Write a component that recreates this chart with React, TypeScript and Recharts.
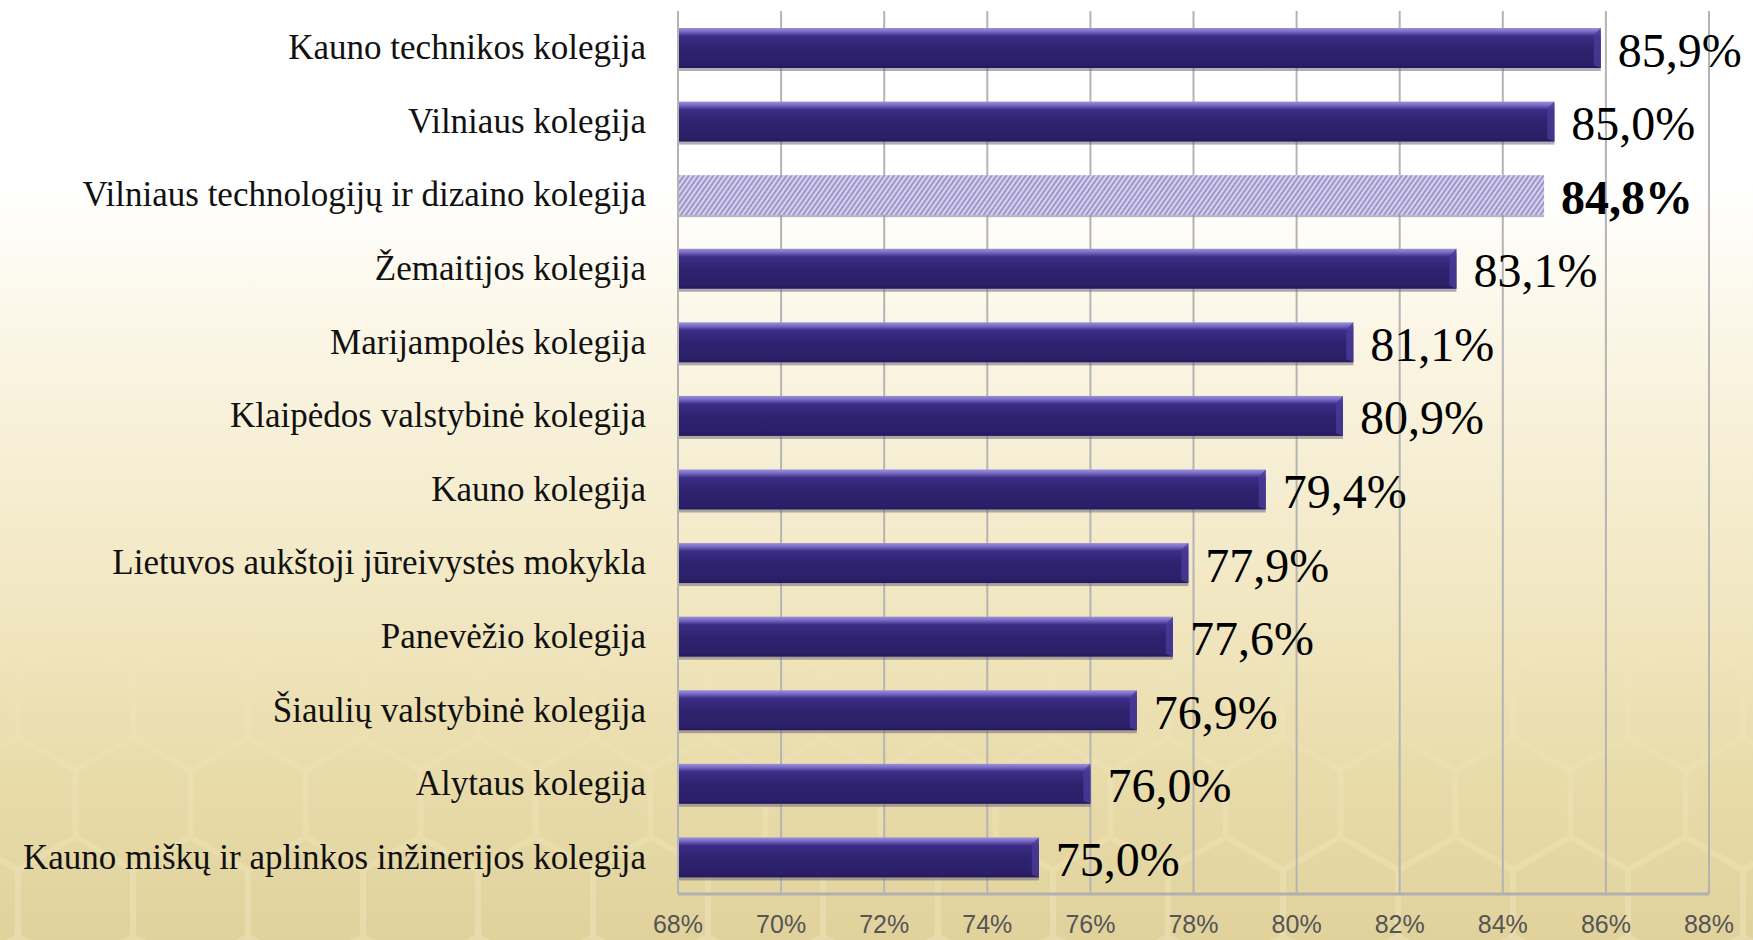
import { BarChart, Bar, XAxis, YAxis, CartesianGrid, LabelList } from 'recharts'

const colleges = [
  'Kauno technikos kolegija',
  'Vilniaus kolegija',
  'Vilniaus technologijų ir dizaino kolegija',
  'Žemaitijos kolegija',
  'Marijampolės kolegija',
  'Klaipėdos valstybinė kolegija',
  'Kauno kolegija',
  'Lietuvos aukštoji jūreivystės mokykla',
  'Panevėžio kolegija',
  'Šiaulių valstybinė kolegija',
  'Alytaus kolegija',
  'Kauno miškų ir aplinkos inžinerijos kolegija',
]

const shares = [85.9, 85.0, 84.8, 83.1, 81.1, 80.9, 79.4, 77.9, 77.6, 76.9, 76.0, 75.0]

const xTicks = [68, 70, 72, 74, 76, 78, 80, 82, 84, 86, 88]

const highlighted = 'Vilniaus technologijų ir dizaino kolegija'

const W = 1753
const H = 940

const data = colleges.map((name, i) => ({ name, value: shares[i] }))

const fmt = (v: number) => v.toFixed(1).replace('.', ',') + '%'

function BarShape(props: any) {
  const { x, y, width, height, payload } = props
  if (width <= 0) return null
  if (payload.name === highlighted) {
    return (
      <g>
        <rect x={x} y={y + 2} width={width} height={height} fill="#8a8a98" opacity={0.6} />
        <rect x={x} y={y} width={width} height={height} fill="url(#hatch)" />
      </g>
    )
  }
  const bev = 7
  return (
    <g>
      <rect x={x} y={y + 3} width={width} height={height} fill="#6f6a80" opacity={0.55} />
      <rect x={x} y={y} width={width} height={height} fill="url(#barGrad)" />
      <polygon
        points={`${x + width - bev},${y + bev} ${x + width},${y} ${x + width},${y + height} ${x + width - bev},${y + height - 3}`}
        fill="#4a3b98"
        opacity={0.8}
      />
    </g>
  )
}

function ValueLabel(props: any) {
  const { x, y, width, height, value, index } = props
  const bold = colleges[index] === highlighted
  return (
    <text
      x={x + width + 17}
      y={y + height / 2 + 2}
      dominantBaseline="central"
      fontFamily="'Liberation Serif', 'Times New Roman', serif"
      fontSize={48}
      fontWeight={bold ? 700 : 400}
      fill="#000"
    >
      {fmt(value)}
    </text>
  )
}

function CategoryTick(props: any) {
  const { x, y, payload } = props
  return (
    <text
      x={x - 24}
      y={y}
      textAnchor="end"
      dominantBaseline="central"
      fontFamily="'Liberation Serif', 'Times New Roman', serif"
      fontSize={35}
      fill="#111"
    >
      {payload.value}
    </text>
  )
}

function PercentTick(props: any) {
  const { x, y, payload } = props
  return (
    <text
      x={x}
      y={y + 22}
      textAnchor="middle"
      dominantBaseline="central"
      fontFamily="'Liberation Sans', Arial, sans-serif"
      fontSize={25}
      fill="#555"
    >
      {payload.value}%
    </text>
  )
}

// honeycomb tile for the faint background pattern
const S = 66.4
const TW = 115
const hexPath = `M0,${S / 2} L${TW / 2},0 L${TW},${S / 2} M0,${S / 2} L0,${1.5 * S} M${TW},${S / 2} L${TW},${1.5 * S} M0,${1.5 * S} L${TW / 2},${2 * S} L${TW},${1.5 * S} M${TW / 2},${2 * S} L${TW / 2},${3 * S}`

export default function App() {
  return (
    <div
      style={{
        position: 'fixed',
        left: 0,
        top: 0,
        width: W,
        height: H,
        background: 'linear-gradient(180deg, #ffffff 0%, #ffffff 20%, #fbf6e6 35%, #f2e8c4 62%, #e9dcab 82%, #e1d29c 100%)',
        overflow: 'hidden',
      }}
    >
      <svg width={W} height={H} style={{ position: 'absolute', left: 0, top: 0 }}>
        <defs>
          <pattern id="hex" patternUnits="userSpaceOnUse" width={TW} height={3 * S} x={18} y={40}>
            <path d={hexPath} stroke="#fff6d8" strokeWidth={6} fill="none" />
          </pattern>
          <linearGradient id="hexFade" x1="0" y1="0" x2="0" y2="1">
            <stop offset="0.65" stopColor="#fff" stopOpacity={0} />
            <stop offset="1" stopColor="#fff" stopOpacity={1} />
          </linearGradient>
          <mask id="hexMask">
            <rect x={0} y={0} width={W} height={H} fill="url(#hexFade)" />
          </mask>
        </defs>
        <rect x={0} y={0} width={W} height={H} fill="url(#hex)" mask="url(#hexMask)" opacity={0.25} />
      </svg>
      <div style={{ position: 'absolute', left: 0, top: 0 }}>
        <BarChart
          width={W}
          height={H}
          data={data}
          layout="vertical"
          margin={{ top: 11, right: 44, bottom: 0, left: 0 }}
          barSize={40}
        >
          <defs>
            <linearGradient id="barGrad" x1="0" y1="0" x2="0" y2="1">
              <stop offset="0" stopColor="#9b90dc" />
              <stop offset="0.1" stopColor="#7466c0" />
              <stop offset="0.2" stopColor="#3c2d86" />
              <stop offset="0.5" stopColor="#2f2370" />
              <stop offset="0.9" stopColor="#2b1f68" />
              <stop offset="1" stopColor="#231a58" />
            </linearGradient>
            <pattern id="hatch" patternUnits="userSpaceOnUse" width={4} height={4} patternTransform="rotate(35)">
              <rect x={0} y={0} width={4} height={4} fill="#d6d2ec" />
              <rect x={0} y={0} width={2} height={4} fill="#9e97cc" />
            </pattern>
          </defs>
          <CartesianGrid horizontal={false} stroke="#b4b4b4" strokeWidth={2} />
          <XAxis
            type="number"
            domain={[68, 88]}
            ticks={xTicks}
            allowDataOverflow
            height={46}
            axisLine={{ stroke: '#b0b0b0', strokeWidth: 3 }}
            tickLine={false}
            tick={<PercentTick />}
          />
          <YAxis
            type="category"
            dataKey="name"
            width={678}
            axisLine={{ stroke: '#b4b4b4', strokeWidth: 2 }}
            tickLine={false}
            tick={<CategoryTick />}
            interval={0}
          />
          <Bar dataKey="value" shape={<BarShape />} isAnimationActive={false}>
            <LabelList dataKey="value" content={<ValueLabel />} />
          </Bar>
        </BarChart>
      </div>
    </div>
  )
}
